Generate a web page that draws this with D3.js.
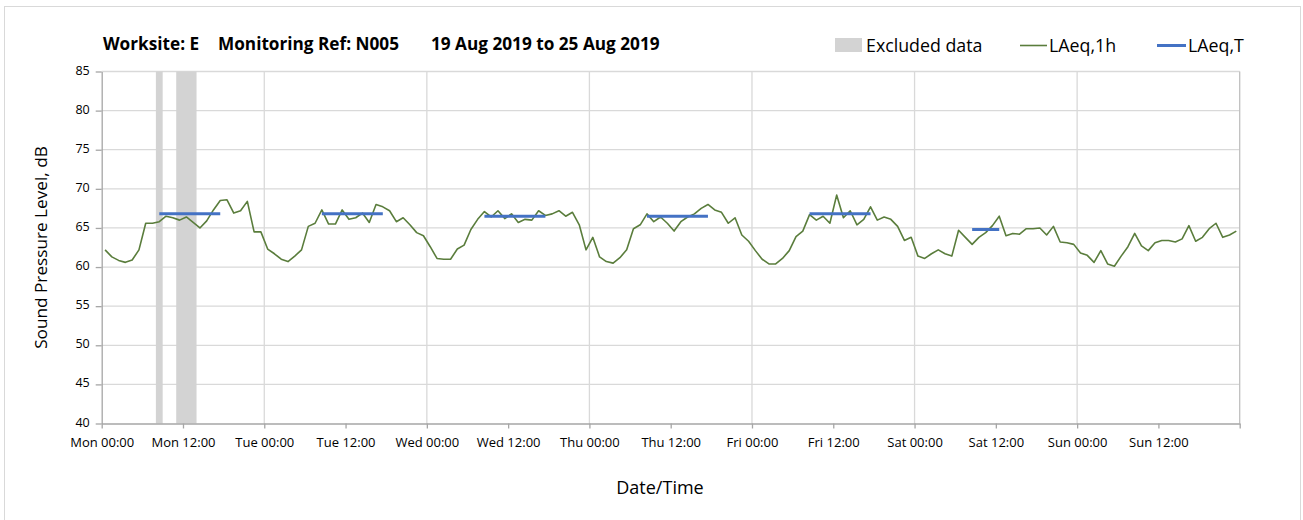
<!DOCTYPE html>
<html>
<head>
<meta charset="utf-8">
<script src="https://cdn.jsdelivr.net/npm/d3@7"></script>
<style>
  html, body { margin: 0; padding: 0; background: #ffffff; }
  svg { display: block; }
  text { font-family: "Open Sans", Lato, sans-serif; fill: #000; }
</style>
</head>
<body>
<svg id="chart" width="1303" height="520"></svg>
<script>
// ---------- DATA ----------
const titleParts = ["Worksite: E", "Monitoring Ref: N005", "19 Aug 2019 to 25 Aug 2019"];
const xTickLabels = ["Mon 00:00", "Mon 12:00", "Tue 00:00", "Tue 12:00", "Wed 00:00", "Wed 12:00",
  "Thu 00:00", "Thu 12:00", "Fri 00:00", "Fri 12:00", "Sat 00:00", "Sat 12:00", "Sun 00:00", "Sun 12:00"];
const yTicks = [40, 45, 50, 55, 60, 65, 70, 75, 80, 85];

// hourly LAeq,1h values (dB), hour 0 = Mon 00:00
const laeqMon = [62.2, 61.3, 60.85, 60.6, 60.9, 62.2, 65.6, 65.6, 65.8, 66.5, 66.3, 66.0, 66.4, 65.7, 65.0, 65.9, 67.3, 68.5, 68.6, 66.9, 67.2, 68.4, 64.5, 64.5];
const laeqTue = [62.3, 61.7, 61.0, 60.7, 61.4, 62.2, 65.2, 65.6, 67.3, 65.5, 65.5, 67.3, 66.1, 66.3, 66.9, 65.7, 68.0, 67.7, 67.2, 65.8, 66.3, 65.4, 64.4, 64.0];
const laeqWed = [62.6, 61.1, 61.0, 61.0, 62.3, 62.8, 64.8, 66.1, 67.1, 66.4, 67.2, 66.2, 66.8, 65.7, 66.1, 66.0, 67.2, 66.6, 66.8, 67.2, 66.5, 67.0, 65.4, 62.2];
const laeqThu = [63.8, 61.3, 60.7, 60.5, 61.2, 62.2, 64.9, 65.4, 66.8, 65.8, 66.4, 65.6, 64.6, 65.8, 66.4, 66.8, 67.5, 68.0, 67.3, 67.0, 65.6, 66.3, 64.1, 63.3];
const laeqFri = [62.1, 61.0, 60.4, 60.4, 61.1, 62.1, 63.9, 64.6, 66.7, 66.0, 66.5, 65.6, 69.2, 66.3, 67.2, 65.4, 66.1, 67.7, 66.0, 66.4, 66.1, 65.2, 63.4, 63.8];
const laeqSat = [61.4, 61.1, 61.7, 62.2, 61.7, 61.4, 64.7, 63.8, 62.9, 63.8, 64.4, 65.3, 66.5, 64.0, 64.3, 64.2, 64.9, 64.9, 65.0, 64.1, 65.2, 63.2, 63.1, 62.9];
const laeqSun = [61.8, 61.5, 60.6, 62.1, 60.4, 60.1, 61.4, 62.6, 64.3, 62.7, 62.1, 63.1, 63.4, 63.4, 63.2, 63.6, 65.3, 63.3, 63.8, 64.9, 65.6, 63.8, 64.1, 64.6];

// LAeq,T working-period values: day index, start hour, end hour (exclusive), dB
const laeqTDays = [0, 1, 2, 3, 4, 5];
const laeqTStart = [8, 8, 8, 8, 8, 8];
const laeqTEnd = [18, 18, 18, 18, 18, 13];
const laeqTValues = [66.8, 66.8, 66.5, 66.5, 66.8, 64.8];

// excluded data periods (hours from Mon 00:00)
const excludedStart = [8, 11];
const excludedEnd = [9, 14];

const legendLabels = ["Excluded data", "LAeq,1h", "LAeq,T"];

// ---------- CHART ----------
(function () {
const hourly = [].concat(laeqMon, laeqTue, laeqWed, laeqThu, laeqFri, laeqSat, laeqSun);
const svg = d3.select("#chart");

const pLeft = 101.7, pRight = 1239.7, pTop = 71.5, pBottom = 423.5;
const x = d3.scaleLinear().domain([0, 168]).range([pLeft, pRight]);
const y = d3.scaleLinear().domain([40, 85]).range([pBottom, pTop]);

const gridColor = "#d9d9d9";
const axisColor = "#a6a6a6";

// chart border
svg.append("rect").attr("x", 4.5).attr("y", 6.5).attr("width", 1296).attr("height", 520)
  .attr("fill", "none").attr("stroke", "#d9d9d9").attr("stroke-width", 1);

// horizontal gridlines
svg.append("g").selectAll("line").data(yTicks.filter(d => d > 40)).join("line")
  .attr("x1", pLeft).attr("x2", pRight)
  .attr("y1", d => y(d)).attr("y2", d => y(d))
  .attr("stroke", gridColor).attr("stroke-width", 1.3);

// vertical day gridlines
const dayHours = d3.range(24, 169, 24);
svg.append("g").selectAll("line").data(dayHours).join("line")
  .attr("x1", d => x(d)).attr("x2", d => x(d))
  .attr("y1", pTop).attr("y2", pBottom)
  .attr("stroke", d => d === 168 ? "#bfbfbf" : gridColor).attr("stroke-width", 1.3);

// excluded bands
svg.append("g").selectAll("rect").data(excludedStart).join("rect")
  .attr("x", d => x(d)).attr("width", (d, i) => x(excludedEnd[i]) - x(d))
  .attr("y", pTop).attr("height", pBottom - pTop)
  .attr("fill", "#d3d3d3");

// y axis
const yAxis = d3.axisLeft(y).tickValues(yTicks).tickSize(6).tickSizeOuter(0).tickPadding(6);
const gy = svg.append("g").attr("transform", `translate(${pLeft},0)`).call(yAxis);
gy.select(".domain").attr("stroke", axisColor).attr("stroke-width", 1.3);
gy.selectAll(".tick line").attr("stroke", axisColor).attr("stroke-width", 1.3);
gy.selectAll(".tick text").attr("font-size", 12.5).attr("font-family", "'Open Sans', sans-serif")
  .attr("fill", "#222").attr("dy", "0.2em");

// x axis
const xTickVals = d3.range(0, 169, 12);
const xAxis = d3.axisBottom(x).tickValues(xTickVals).tickSize(5).tickSizeOuter(0).tickPadding(9)
  .tickFormat((d, i) => xTickLabels[i] || "");
const gx = svg.append("g").attr("transform", `translate(0,${pBottom})`).call(xAxis);
gx.select(".domain").attr("stroke", axisColor).attr("stroke-width", 1.3);
gx.selectAll(".tick line").attr("stroke", axisColor).attr("stroke-width", 1.3);
gx.selectAll(".tick text").attr("font-size", 13).attr("font-family", "'Open Sans', sans-serif").attr("fill", "#222");

// LAeq,1h line
const line = d3.line().x((d, i) => x(i + 0.5)).y(d => y(d));
svg.append("path").datum(hourly).attr("d", line)
  .attr("fill", "none").attr("stroke", "#5a7d3c").attr("stroke-width", 1.6)
  .attr("stroke-linejoin", "round");

// LAeq,T segments
svg.append("g").selectAll("line").data(laeqTValues).join("line")
  .attr("x1", (d, i) => x(laeqTDays[i] * 24 + laeqTStart[i] + 0.5))
  .attr("x2", (d, i) => x(laeqTDays[i] * 24 + laeqTEnd[i] - 0.5))
  .attr("y1", d => y(d)).attr("y2", d => y(d))
  .attr("stroke", "#4472c4").attr("stroke-width", 3);

// title
const titleX = [103, 218, 431];
svg.append("g").selectAll("text").data(titleParts).join("text")
  .attr("x", (d, i) => titleX[i]).attr("y", 50)
  .attr("font-size", 17.2).attr("font-weight", "bold").text(d => d);

// axis titles
svg.append("text").attr("transform", `translate(47,${(pTop + pBottom) / 2}) rotate(-90)`)
  .attr("text-anchor", "middle").attr("font-size", 17.2).text("Sound Pressure Level, dB");
svg.append("text").attr("x", 660).attr("y", 494).attr("text-anchor", "middle")
  .attr("font-size", 18).text("Date/Time");

// legend
const lg = svg.append("g");
lg.append("rect").attr("x", 835).attr("y", 38).attr("width", 27).attr("height", 14).attr("fill", "#d3d3d3");
lg.append("text").attr("x", 866).attr("y", 51.5).attr("font-size", 17.8).text(legendLabels[0]);
lg.append("line").attr("x1", 1020).attr("x2", 1047).attr("y1", 45.5).attr("y2", 45.5)
  .attr("stroke", "#5a7d3c").attr("stroke-width", 1.6);
lg.append("text").attr("x", 1049).attr("y", 51.5).attr("font-size", 17.8).text(legendLabels[1]);
lg.append("line").attr("x1", 1157).attr("x2", 1186).attr("y1", 45.5).attr("y2", 45.5)
  .attr("stroke", "#4472c4").attr("stroke-width", 3);
lg.append("text").attr("x", 1188).attr("y", 51.5).attr("font-size", 17.8).text(legendLabels[2]);
})();
</script>
</body>
</html>
